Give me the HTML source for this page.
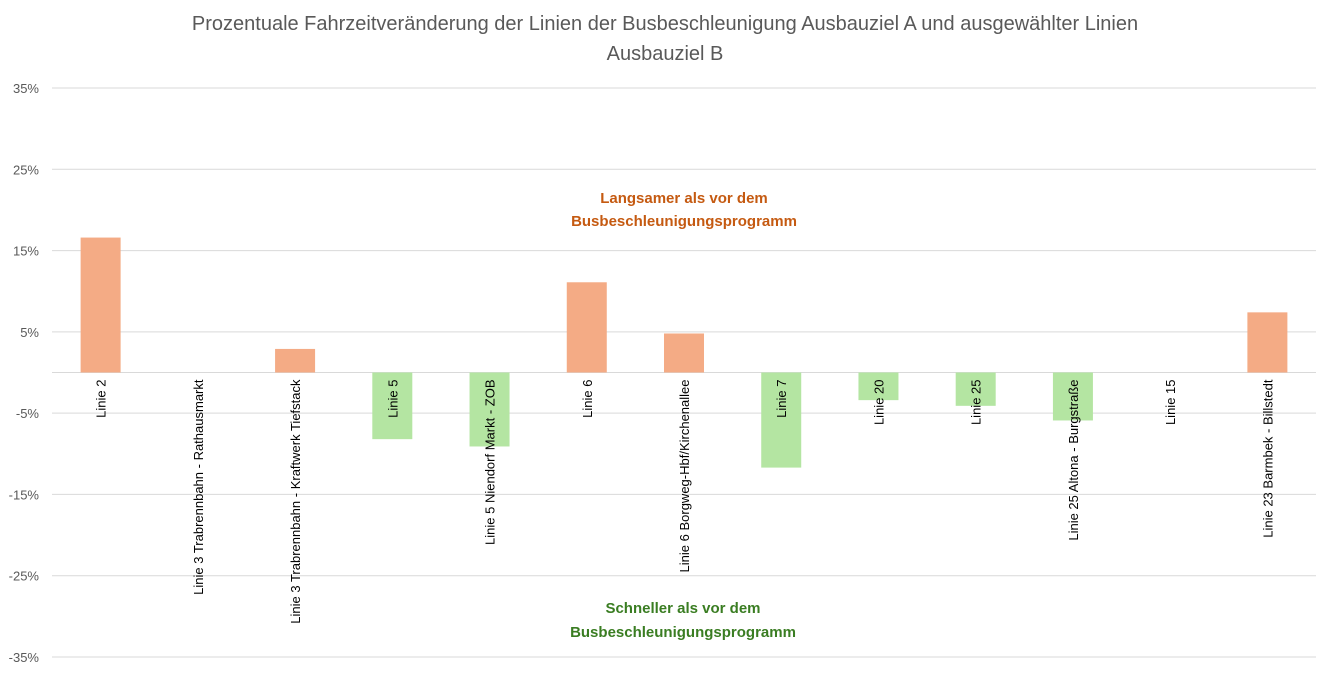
<!DOCTYPE html>
<html><head><meta charset="utf-8"><style>
body{margin:0;background:#fff;font-family:"Liberation Sans",sans-serif;}
svg text{font-family:"Liberation Sans",sans-serif;}
</style></head><body>
<svg id="c" width="1327" height="670">
<text x="665" y="30" text-anchor="middle" font-size="20" fill="#595959">Prozentuale Fahrzeitveränderung der Linien der Busbeschleunigung Ausbauziel A und ausgewählter Linien</text>
<text x="665" y="60" text-anchor="middle" font-size="20" fill="#595959">Ausbauziel B</text>
<g id="grid"></g><g id="bars"></g><g id="labels"></g>
<text x="684" y="203" text-anchor="middle" font-size="15" font-weight="bold" fill="#C55A11">Langsamer als vor dem</text>
<text x="684" y="226" text-anchor="middle" font-size="15" font-weight="bold" fill="#C55A11">Busbeschleunigungsprogramm</text>
<text x="683" y="613" text-anchor="middle" font-size="15" font-weight="bold" fill="#3A7D22">Schneller als vor dem</text>
<text x="683" y="637" text-anchor="middle" font-size="15" font-weight="bold" fill="#3A7D22">Busbeschleunigungsprogramm</text>
</svg>
<script>
const categories=["Linie 2","Linie 3 Trabrennbahn - Rathausmarkt","Linie 3 Trabrennbahn - Kraftwerk Tiefstack","Linie 5","Linie 5 Niendorf Markt - ZOB","Linie 6","Linie 6 Borgweg-Hbf/Kirchenallee","Linie 7","Linie 20","Linie 25","Linie 25 Altona - Burgstraße","Linie 15","Linie 23 Barmbek - Billstedt"];
const values=[16.6,0,2.9,-8.2,-9.1,11.1,4.8,-11.7,-3.4,-4.1,-5.9,0,7.4];
const ticks=[35,25,15,5,-5,-15,-25,-35];
const NS="http://www.w3.org/2000/svg";
const x0=52,x1=1316,yTop=88,yBot=657,vMax=35,vMin=-35;
const y=v=>yTop+(vMax-v)/(vMax-vMin)*(yBot-yTop);
const bw=(x1-x0)/categories.length;
const xc=i=>x0+bw*(i+0.5);
const grid=document.getElementById('grid'),bars=document.getElementById('bars'),labels=document.getElementById('labels');
ticks.forEach(t=>{
const l=document.createElementNS(NS,'line');
l.setAttribute('x1',x0);l.setAttribute('x2',x1);l.setAttribute('y1',y(t));l.setAttribute('y2',y(t));
l.setAttribute('stroke','#d9d9d9');


grid.appendChild(l);
const tx=document.createElementNS(NS,'text');
tx.setAttribute('x',39);tx.setAttribute('y',y(t)+5);tx.setAttribute('text-anchor','end');
tx.setAttribute('font-size','13');tx.setAttribute('fill','#595959');
tx.textContent=t+'%';


grid.appendChild(tx);
});
const z=document.createElementNS(NS,'line');
z.setAttribute('x1',x0);z.setAttribute('x2',x1);z.setAttribute('y1',y(0));z.setAttribute('y2',y(0));z.setAttribute('stroke','#d9d9d9');


grid.appendChild(z);
categories.forEach((c,i)=>{
const v=values[i];
if(v!==0){
const r=document.createElementNS(NS,'rect');
r.setAttribute('x',xc(i)-20);r.setAttribute('width',40);
r.setAttribute('y',Math.min(y(v),y(0)));r.setAttribute('height',Math.abs(y(v)-y(0)));
r.setAttribute('fill',v>0?'#F4AB85':'#B4E5A2');


bars.appendChild(r);
}
const t=document.createElementNS(NS,'text');
const lx=xc(i)+5,ly=y(0)+7;
t.setAttribute('transform','translate('+lx+','+ly+') rotate(-90)');
t.setAttribute('text-anchor','end');t.setAttribute('font-size','13');t.setAttribute('fill','#000');
t.textContent=c;


labels.appendChild(t);
});
</script>
</body></html>
